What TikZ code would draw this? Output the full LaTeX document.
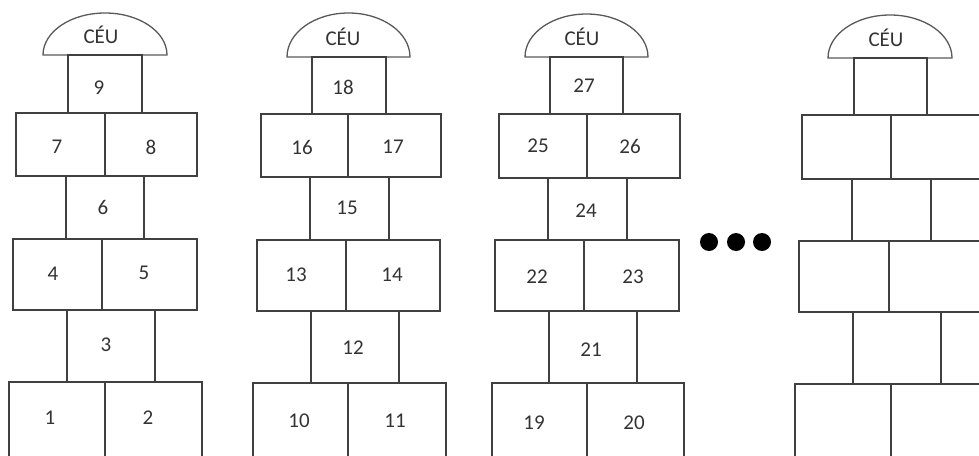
\documentclass[tikz,border=0pt]{standalone}
\usepackage{fontspec}
\setmainfont{Carlito}
\begin{document}
\begin{tikzpicture}[x=1pt,y=-1pt,
  cell/.style={draw=black!75,line width=1.8pt},
  dome/.style={draw=black!65,line width=1.3pt},
  lbl/.style={text=black!80,font=\fontsize{21}{24}\selectfont,inner sep=0pt},
  dot/.style={circle,fill=black,inner sep=0pt,minimum size=18pt}]
\useasboundingbox (0,0) rectangle (979,455);
\clip (0,0) rectangle (979,455);
% ---------- column 1 ----------
\draw[dome] (43,55) arc[start angle=180,end angle=360,x radius=62,y radius=42] -- cycle;
\draw[cell] (68,55) rectangle (142,113);
\draw[cell] (16,113) rectangle (197,176);
\draw[cell] (105,113) -- (105,176);
\draw[cell] (66,176) rectangle (144,239);
\draw[cell] (13,239) rectangle (197,310);
\draw[cell] (102,239) -- (102,310);
\draw[cell] (67,310) rectangle (155,382);
\draw[cell] (9,382) rectangle (202,470);
\draw[cell] (105,382) -- (105,470);
\node[lbl] (c1) at (101,35) {CÉU};
\node[lbl] (n9) at (99,88) {9};
\node[lbl] (n7) at (57,147) {7};
\node[lbl] (n8) at (151,147) {8};
\node[lbl] (n6) at (103,207) {6};
\node[lbl] (n4) at (53,274) {4};
\node[lbl] (n5) at (144,273) {5};
\node[lbl] (n3) at (106,345) {3};
\node[lbl] (n1) at (50,418) {1};
\node[lbl] (n2) at (148,418) {2};
% ---------- column 2 ----------
\draw[dome] (287,57) arc[start angle=180,end angle=360,x radius=61.5,y radius=44] -- cycle;
\draw[cell] (312,57) rectangle (386,114);
\draw[cell] (261,114) rectangle (441,177);
\draw[cell] (348,114) -- (348,177);
\draw[cell] (310,177) rectangle (389,240);
\draw[cell] (257,240) rectangle (440,311);
\draw[cell] (346,240) -- (346,311);
\draw[cell] (311,311) rectangle (399,383);
\draw[cell] (253,383) rectangle (446,470);
\draw[cell] (348,383) -- (348,470);
\node[lbl] (c2) at (343,37) {CÉU};
\node[lbl] (n18) at (343,87) {18};
\node[lbl] (n16) at (302,147) {16};
\node[lbl] (n17) at (393,147) {17};
\node[lbl] (n15) at (347,208) {15};
\node[lbl] (n13) at (296,275) {13};
\node[lbl] (n14) at (392,275) {14};
\node[lbl] (n12) at (353,348) {12};
\node[lbl] (n10) at (299,421) {10};
\node[lbl] (n11) at (395,421) {11};
% ---------- column 3 ----------
\draw[dome] (525,57) arc[start angle=180,end angle=360,x radius=61.5,y radius=43] -- cycle;
\draw[cell] (550,57) rectangle (623,114);
\draw[cell] (499,114) rectangle (680,178);
\draw[cell] (587,114) -- (587,178);
\draw[cell] (548,178) rectangle (627,240);
\draw[cell] (495,240) rectangle (679,311);
\draw[cell] (584,240) -- (584,311);
\draw[cell] (549,311) rectangle (637,383);
\draw[cell] (492,383) rectangle (684,470);
\draw[cell] (587,383) -- (587,470);
\node[lbl] (c3) at (582,37) {CÉU};
\node[lbl] (n27) at (584,86) {27};
\node[lbl] (n25) at (538,146) {25};
\node[lbl] (n26) at (630,146) {26};
\node[lbl] (n24) at (586,211) {24};
\node[lbl] (n22) at (537,277) {22};
\node[lbl] (n23) at (633,277) {23};
\node[lbl] (n21) at (591,350) {21};
\node[lbl] (n19) at (534,423) {19};
\node[lbl] (n20) at (634,423) {20};
% ---------- dots ----------
\node[dot] (d1) at (709,242) {};
\node[dot] (d2) at (736,242) {};
\node[dot] (d3) at (762,242) {};
% ---------- column 4 ----------
\draw[dome] (828,58) arc[start angle=180,end angle=360,x radius=62,y radius=43] -- cycle;
\draw[cell] (854,58) rectangle (927,115);
\draw[cell] (802,115) rectangle (985,179);
\draw[cell] (891,115) -- (891,179);
\draw[cell] (852,179) rectangle (931,241);
\draw[cell] (799,241) rectangle (985,312);
\draw[cell] (889,241) -- (889,312);
\draw[cell] (853,312) rectangle (941,384);
\draw[cell] (795,384) rectangle (985,470);
\draw[cell] (891,384) -- (891,470);
\node[lbl] (c4) at (886,38) {CÉU};
\end{tikzpicture}
\end{document}
